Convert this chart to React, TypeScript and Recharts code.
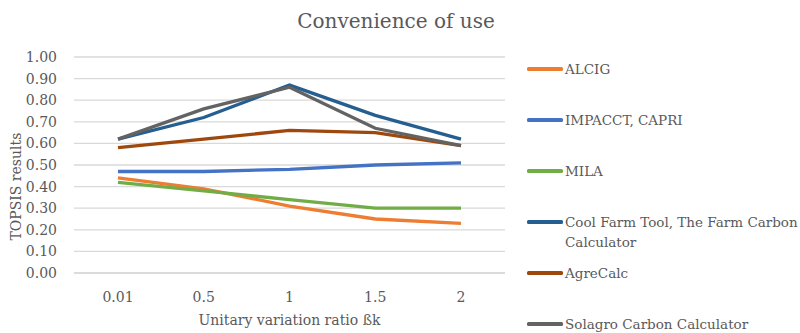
import React from 'react';
import { LineChart, Line, XAxis, YAxis, CartesianGrid } from 'recharts';

const categories = ['0.01', '0.5', '1', '1.5', '2'];
const alcig = [0.44, 0.39, 0.31, 0.25, 0.23];
const impacct = [0.47, 0.47, 0.48, 0.5, 0.51];
const mila = [0.42, 0.38, 0.34, 0.3, 0.3];
const coolFarm = [0.62, 0.72, 0.87, 0.73, 0.62];
const agreCalc = [0.58, 0.62, 0.66, 0.65, 0.59];
const solagro = [0.62, 0.76, 0.86, 0.67, 0.59];
const yTicks = [0, 0.1, 0.2, 0.3, 0.4, 0.5, 0.6, 0.7, 0.8, 0.9, 1];

const series = [
  { key: 'alcig', name: 'ALCIG', values: alcig, color: '#ED7D31' },
  { key: 'impacct', name: 'IMPACCT, CAPRI', values: impacct, color: '#4472C4' },
  { key: 'mila', name: 'MILA', values: mila, color: '#70AD47' },
  { key: 'coolFarm', name: 'Cool Farm Tool, The Farm Carbon Calculator', values: coolFarm, color: '#255E91' },
  { key: 'agreCalc', name: 'AgreCalc', values: agreCalc, color: '#9E480E' },
  { key: 'solagro', name: 'Solagro Carbon Calculator', values: solagro, color: '#636363' },
];

const data = categories.map((c, i) => {
  const row: Record<string, string | number> = { ratio: c };
  series.forEach((s) => {
    row[s.key] = s.values[i];
  });
  return row;
});

const FONT = '"DejaVu Serif", serif';
const TEXT = '#595959';

const YTitle = ({ viewBox }: any) => {
  const x = viewBox.x + 16;
  const y = viewBox.y + viewBox.height * 0.6;
  return (
    <text
      x={x}
      y={y}
      transform={`rotate(-90, ${x}, ${y})`}
      textAnchor="middle"
      dominantBaseline="central"
      fill={TEXT}
      fontSize={14}
      fontFamily={FONT}
    >
      TOPSIS results
    </text>
  );
};

const App: React.FC = () => {
  return (
    <div style={{ position: 'absolute', left: 0, top: 0, width: 800, height: 333, background: '#fff', fontFamily: FONT }}>
      <div
        style={{
          position: 'absolute',
          left: 0,
          top: 9,
          width: 792,
          textAlign: 'center',
          fontSize: 20,
          lineHeight: '24px',
          color: TEXT,
        }}
      >
        Convenience of use
      </div>
      <LineChart width={800} height={333} data={data} margin={{ top: 57, right: 295, bottom: 0, left: 0 }}>
        <CartesianGrid vertical={false} stroke="#d9d9d9" strokeWidth={1.3} />
        <XAxis
          dataKey="ratio"
          height={60}
          padding={{ left: 44, right: 44 }}
          tickLine={false}
          axisLine={{ stroke: '#d9d9d9', strokeWidth: 1.3 }}
          tickMargin={13}
          tick={{ fill: TEXT, fontSize: 14, fontFamily: FONT }}
          label={{ value: 'Unitary variation ratio ßk', position: 'insideBottom', offset: 8, fill: TEXT, fontSize: 14, fontFamily: FONT }}
        />
        <YAxis
          width={74}
          domain={[0, 1]}
          ticks={yTicks}
          interval={0}
          tickFormatter={(v: number) => v.toFixed(2)}
          tickLine={false}
          axisLine={false}
          tickMargin={11}
          tick={{ fill: TEXT, fontSize: 14, fontFamily: FONT }}
          label={{ content: YTitle }}
        />
        {series.map((s) => (
          <Line
            key={s.key}
            type="linear"
            dataKey={s.key}
            name={s.name}
            stroke={s.color}
            strokeWidth={3.3}
            dot={false}
            isAnimationActive={false}
          />
        ))}
      </LineChart>
      <div style={{ position: 'absolute', left: 527, top: 59 }}>
        {series.map((s) => (
          <div key={s.key} style={{ display: 'flex', alignItems: 'flex-start', height: 51 }}>
            <div style={{ width: 36, height: 3.3, marginTop: 8.4, background: s.color, borderRadius: 1.5, flex: 'none' }} />
            <div style={{ marginLeft: 2, width: 236, fontSize: 13.5, lineHeight: '20px', color: TEXT }}>{s.name}</div>
          </div>
        ))}
      </div>
    </div>
  );
};

export default App;
